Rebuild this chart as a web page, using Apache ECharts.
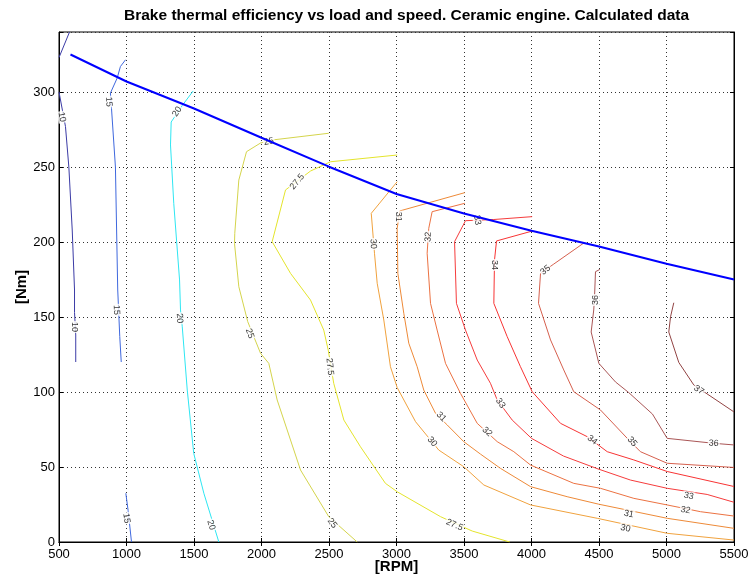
<!DOCTYPE html>
<html>
<head>
<meta charset="utf-8">
<script src="https://cdn.jsdelivr.net/npm/echarts@6/dist/echarts.min.js"></script>
<style>html,body{margin:0;padding:0;background:#fff}#c{width:751px;height:580px}</style>
</head>
<body>
<div id="c"></div>
<script>
const titleText = 'Brake thermal efficiency vs load and speed. Ceramic engine. Calculated data';
const xName = '[RPM]';
const yName = '[Nm]';
const xTicks = [500, 5500, 500];
const yTicks = [0, 340, 50];

// full-load (max torque) line [rpm, Nm]
const maxTorque = [[585,325],[1000,307],[1500,289],[2000,269.5],[2500,250.2],[3000,232],[3500,219],[4000,207.5],[4500,197],[5000,185.5],[5500,175]];

// contour lines [rpm, Nm]
const c10a = [[578,340],[500,323]];
const c10b = [[500,300],[548,277],[573,250],[598,208],[615,168],[615,153],[624,138],[624,120]];
const c15a = [[993,321.5],[955,317],[931,309.3],[881,299.3],[889,289],[918,250],[935,168],[936,166],[950,137],[961,120]];
const c15b = [[995,32.5],[1012,21],[1037,0]];
const c20 = [[1494,300.7],[1413,291],[1331,280],[1326,264.7],[1350,225.8],[1393,174.7],[1400,154.7],[1413,143.5],[1450,101.3],[1498,59.1],[1573,32.5],[1684,0]];
const c25 = [[2498,272.5],[2079,268],[1993,266],[1889,260.2],[1832,241.3],[1802,205.8],[1800,199],[1832,170.2],[1898,146.9],[1993,125.8],[2054,119.1],[2116,94.7],[2289,48],[2498,16.9],[2709,0]];
const c275 = [[3005,258],[2511,253.5],[2363,247.3],[2178,234.7],[2079,200.2],[2215,179.1],[2363,161.3],[2461,141.3],[2494,128],[2535,105.8],[2610,81.3],[2733,63.5],[2918,39.1],[3005,33.5],[3326,16.9],[3561,7.3],[3839,0]];
const c30 = [[3005,240.2],[2813,219.1],[2837,192.5],[2857,172.5],[2906,148],[2955,116.9],[3005,103],[3141,80.2],[3313,61.3],[3498,50.2],[3647,38],[3993,24.7],[4487,15.8],[5005,5.8],[5500,1.3]];
const c31 = [[3506,232.9],[3024,220.7],[3005,209.1],[3010,179.1],[3054,152.5],[3091,132.5],[3153,116.9],[3202,101.3],[3289,85.8],[3376,78],[3498,66.9],[3622,58.6],[3770,49.1],[3993,36.9],[4264,30.2],[4498,25.2],[5005,15.8],[5500,9.1]];
const c32 = [[3506,225.8],[3264,220.2],[3239,209.1],[3227,192.5],[3252,159.1],[3301,141.3],[3363,119.1],[3474,99.1],[3598,79.1],[3746,66.9],[3869,60.2],[3993,51.3],[4313,39.1],[4511,35.8],[4758,29.1],[5005,24.7],[5252,20.2],[5500,17.3]];
const c33 = [[4005,216.9],[3721,215],[3511,214.2],[3430,200.2],[3444,159.1],[3511,141.3],[3598,121.3],[3696,105.8],[3746,94.7],[3857,81.3],[4000,69.1],[4237,57.3],[4493,48.7],[4733,41.3],[5005,35.8],[5301,31.7],[5500,26.5]];
const c34 = [[4005,207.3],[3741,200.7],[3726,188],[3721,159.1],[3820,136.9],[3918,116.9],[4005,100.2],[4215,79.1],[4413,70.2],[4561,60.2],[4758,54.7],[5005,47],[5500,37]];
const c35 = [[4387,199.3],[4165,185.3],[4067,179.1],[4052,159.1],[4141,134.7],[4239,114.7],[4313,100.2],[4511,88],[4721,68],[4807,60.2],[5005,52.5],[5500,49.7]];
const c36 = [[4506,181.7],[4474,180.2],[4467,163.5],[4461,154.7],[4442,140],[4499,119.1],[4622,106.7],[4719,99.7],[4896,85.3],[5005,69.1],[5350,65.8],[5500,64.7]];
const c37 = [[5054,159.5],[5030,150.2],[5017,140],[5091,119.7],[5202,104.7],[5500,86.7]];

// contour labels
const labelText = ['10','10','15','15','15','20','20','20','25','25','25','27.5','27.5','27.5','30','30','30','31','31','31','32','32','32','33','33','33','34','34','35','35','36','36','37'];
const labelPos = [[522,283.3],[615,143.3],[869,293.5],[926,154.7],[1000,15.8],[1375,286.9],[1393,149.1],[1627,11.3],[2054,266.9],[1913,139],[2524,12.5],[2265,240.2],[2506,116.9],[3430,11.3],[2827,198.7],[3264,66.9],[4696,9.1],[3017,216.9],[3331,83.5],[4721,18.7],[3235,203.5],[3672,73.5],[5141,21.3],[3598,214.7],[3770,92.5],[5165,30.7],[3726,184.7],[4450,68],[4104,181.3],[4746,66.9],[4474,161.3],[5350,65.8],[5239,101.3]];
const labelAngle = [-78,-90,-85,-88,-80,57,-85,-73,10,-72,-52,50,-85,-24,-87,-50,-12,-90,-45,-11,87,-43,-10,-80,-55,-10,-90,-37,40,-50,90,-4,-34];

const contourSets = [
  {d:c10a, color:'#3b3ba6'}, {d:c10b, color:'#3b3ba6'},
  {d:c15a, color:'#3f68de'}, {d:c15b, color:'#3f68de'},
  {d:c20, color:'#2ee6f2'},
  {d:c25, color:'#d4d44c'},
  {d:c275, color:'#e4e42c'},
  {d:c30, color:'#f0a23e'},
  {d:c31, color:'#ee8a38'},
  {d:c32, color:'#ec7242'},
  {d:c33, color:'#f63c3c'},
  {d:c34, color:'#f83434'},
  {d:c35, color:'#d6604e'},
  {d:c36, color:'#aa5656'},
  {d:c37, color:'#924444'}
];

const FONT = '"Liberation Sans", Arial, Helvetica, sans-serif';
const series = contourSets.map(s => ({
  type:'line', data:s.d, showSymbol:false, symbol:'none', z:2,
  lineStyle:{color:s.color, width:1}, silent:true, animation:false
}));
series.push({
  type:'scatter', z:3, symbolSize:0, silent:true, animation:false,
  data: labelText.map((t,i)=>({name:t, value:labelPos[i], label:{rotate:labelAngle[i]}})),
  label:{show:true, position:'inside', formatter:'{b}', color:'#000', fontSize:9, fontFamily:FONT,
         backgroundColor:'#fff', padding:[0,1]}
});
series.push({
  type:'line', data:maxTorque, showSymbol:false, symbol:'none', z:5,
  lineStyle:{color:'#0000ff', width:2}, silent:true, animation:false
});

const gridLine = {show:true, lineStyle:{color:'#333', type:[1,3], width:1}};
const chart = echarts.init(document.getElementById('c'), null, {renderer:'canvas'});
chart.setOption({
  animation:false,
  backgroundColor:'#fff',
  title:{text:titleText, left:124, top:8, padding:0,
         textStyle:{fontSize:15.5, fontWeight:'bold', color:'#000', fontFamily:FONT}},
  grid:{left:59, right:17, top:32, bottom:38, containLabel:false, outerBoundsMode:'none',
        show:true, borderColor:'#000', borderWidth:1, backgroundColor:'#fff'},
  xAxis:[{
    type:'value', min:xTicks[0], max:xTicks[1], interval:xTicks[2], position:'bottom',
    name:xName, nameLocation:'middle', nameGap:17, nameMoveOverlap:false,
    nameTextStyle:{fontSize:15, fontWeight:'bold', color:'#000', fontFamily:FONT},
    axisLine:{show:true, lineStyle:{color:'#000'}},
    axisTick:{show:true, inside:true, length:4, lineStyle:{color:'#000'}},
    axisLabel:{color:'#000', fontSize:13, fontFamily:FONT, margin:6, formatter: v => String(v)},
    splitLine:gridLine
  },{
    type:'value', min:xTicks[0], max:xTicks[1], interval:xTicks[2], position:'top',
    axisLine:{show:true, lineStyle:{color:'#000'}},
    axisTick:{show:true, inside:true, length:4, lineStyle:{color:'#000'}},
    axisLabel:{show:false}, splitLine:{show:false}
  }],
  yAxis:[{
    type:'value', min:yTicks[0], max:yTicks[1], interval:yTicks[2], position:'left',
    name:yName, nameLocation:'middle', nameGap:30, nameMoveOverlap:false,
    nameTextStyle:{fontSize:15, fontWeight:'bold', color:'#000', fontFamily:FONT},
    axisLine:{show:true, lineStyle:{color:'#000'}},
    axisTick:{show:true, inside:true, length:4, lineStyle:{color:'#000'}},
    axisLabel:{color:'#000', fontSize:13, fontFamily:FONT, margin:4,
               formatter: v => (v % yTicks[2] === 0 ? String(v) : '')},
    splitLine:gridLine
  },{
    type:'value', min:yTicks[0], max:yTicks[1], interval:yTicks[2], position:'right',
    axisLine:{show:true, lineStyle:{color:'#000'}},
    axisTick:{show:true, inside:true, length:4, lineStyle:{color:'#000'}},
    axisLabel:{show:false}, splitLine:{show:false}
  }],
  series: series
});
</script>
</body>
</html>
